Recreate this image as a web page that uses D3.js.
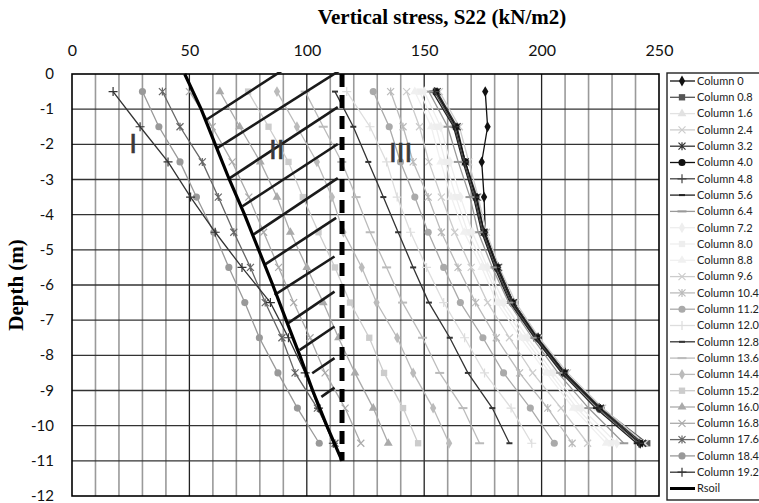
<!DOCTYPE html>
<html>
<head>
<meta charset="utf-8">
<script src="https://cdnjs.cloudflare.com/ajax/libs/d3/7.8.5/d3.min.js"></script>
<style>
  body { margin: 0; background: #fff; }
  svg { display: block; }
</style>
</head>
<body>
<div id="chart"></div>
<script>
  // depths (m) where each column profile was sampled
  const depths = [-0.5, -1.5, -2.5, -3.5, -4.5, -5.5, -6.5, -7.5, -8.5, -9.5, -10.5];

  // vertical stress S22 (kN/m2) for each column line
  const column0   = [176, 177, 174.5, 175.5, 176, 181.5, 188, 198.5, 210, 224.5, 242];
  const column08  = [155, 163.5, 167.5, 172, 175.5, 181, 188, 198.5, 210, 225.5, 245];
  const column16  = [154, 163, 167, 171.5, 175, 180.5, 187.5, 197.5, 209, 224, 243];
  const column24  = [156.5, 165, 169, 173, 176.5, 182, 189, 199, 211, 226, 244];
  const column32  = [155.5, 164, 167.5, 172.5, 175.5, 181.5, 188, 198, 210, 225, 243];
  const column40  = [155, 163.5, 167.5, 172, 175.5, 181, 187.5, 198, 209.5, 224.5, 242];
  const column48  = [154.5, 163, 167, 171.5, 175, 180.5, 187, 197.5, 209, 224, 241.5];
  const column56  = [153.5, 162.5, 166.5, 171, 174.5, 180, 186.5, 197, 208.5, 223, 240.5];
  const column64  = [152, 160, 164.5, 169.5, 173, 179, 186, 196, 207, 220, 235];
  const column72  = [150, 157, 161, 165.5, 170.5, 177, 184, 194, 205, 217, 232];
  const column80  = [148, 155, 159, 163.5, 168.5, 176, 182.5, 192.5, 203.5, 215, 229.5];
  const column88  = [146, 153, 157, 161.5, 167, 174.5, 181, 191, 202, 213.5, 227.5];
  const column96  = [142.5, 148, 152, 157.3, 163, 170, 177, 186.3, 196.2, 208.3, 219.6];
  const column104 = [135.7, 141, 145.3, 151.7, 157.3, 164.4, 171.9, 180.7, 190.6, 202.6, 213];
  const column112 = [128.3, 135.1, 139.9, 146, 151.7, 158.3, 165.4, 175, 183.8, 195.2, 205.4];
  const column120 = [117, 126.9, 134, 138.5, 144.2, 151, 158.3, 167.2, 175.7, 187, 195.8];
  const column128 = [112, 119.8, 126.2, 132.6, 138.9, 145.3, 152, 160.9, 168.6, 179, 186.3];
  const column136 = [99.3, 107, 114.9, 121, 127, 134, 140.8, 149.3, 156.6, 166.5, 173.6];
  const column144 = [87.3, 95.8, 104.3, 110.7, 115.6, 123.4, 129.7, 138.5, 145.3, 153.8, 160.6];
  const column152 = [75, 83.7, 92.2, 98.3, 105, 112, 118.4, 126.6, 132.9, 141, 147.4];
  const column160 = [63, 71.4, 80.2, 87.3, 93, 100, 107, 113.5, 120.5, 128.3, 134.7];
  const column168 = [50, 59.7, 68.2, 75.3, 81.6, 88, 94.4, 101.4, 107.8, 116.3, 123];
  const column176 = [38.5, 46, 55.5, 62.3, 68.9, 76, 82.3, 89.4, 95, 104.5, 112];
  const column184 = [30, 37, 46, 53, 60.4, 66.8, 73.6, 79.8, 87.7, 96, 105.3];
  const column192 = [17.5, 29, 40.9, 50.5, 61, 72.4, 84.5, 92.2, 99.3, 105, 111.3];

  const columnNames = ['Column 0', 'Column 0.8', 'Column 1.6', 'Column 2.4', 'Column 3.2',
    'Column 4.0', 'Column 4.8', 'Column 5.6', 'Column 6.4', 'Column 7.2', 'Column 8.0',
    'Column 8.8', 'Column 9.6', 'Column 10.4', 'Column 11.2', 'Column 12.0', 'Column 12.8',
    'Column 13.6', 'Column 14.4', 'Column 15.2', 'Column 16.0', 'Column 16.8', 'Column 17.6',
    'Column 18.4', 'Column 19.2'];
  const columnValues = [column0, column08, column16, column24, column32, column40, column48,
    column56, column64, column72, column80, column88, column96, column104, column112,
    column120, column128, column136, column144, column152, column160, column168, column176,
    column184, column192];

  // Rsoil line
  const rsoilDepth  = [0, -1, -2, -3, -4, -5, -6, -7, -8, -9, -10, -11];
  const rsoilStress = [48, 55, 61, 67, 73.5, 79.5, 85.5, 91.2, 97, 102.5, 108.5, 115];

  // vertical limit (dashed)
  const limitStress = 115;
  const limitDepth = [0, -11];

  // hatch lines between Rsoil and the limit
  const hatchStartX = [57.2, 61.5, 67.2, 72.6, 77.1, 82.1, 86.3, 91.9, 96.9, 102.3, 106.2];
  const hatchStartD = [-1.3, -2.12, -2.96, -3.76, -4.57, -5.42, -6.28, -7.09, -7.85, -8.51, -9.18];
  const hatchEndX   = [90, 114, 113.2, 113.2, 113.2, 112.5, 111.8, 111.8, 111.8, 111.8, 111.8];
  const hatchEndD   = [0.12, 0.1, -0.94, -1.99, -2.96, -4.09, -5.19, -6.19, -7.18, -8.08, -8.92];

  // zone labels
  const zoneLabels = ['I', 'II', 'III'];
  const zoneX = [26, 87.2, 140];
  const zoneD = [-2.24, -2.42, -2.49];

  const xTicks = [0, 50, 100, 150, 200, 250];
  const yTicks = [0, -1, -2, -3, -4, -5, -6, -7, -8, -9, -10, -11, -12];

  // look of each column line: [colour, marker]
  const styles = [
    ['#111', 'diamond'], ['#555', 'square'], ['#e2e2e2', 'triangle'], ['#cccccc', 'x'],
    ['#333', 'asterisk'], ['#111', 'circle'], ['#444', 'plus'], ['#222', 'dash'],
    ['#999', 'longdash'], ['#eeeeee', 'diamond'], ['#eeeeee', 'square'], ['#f0f0f0', 'triangle'],
    ['#cccccc', 'x'], ['#bbbbbb', 'asterisk'], ['#aaaaaa', 'circle'], ['#dddddd', 'plus'],
    ['#333', 'dash'], ['#bbbbbb', 'longdash'], ['#bbbbbb', 'diamond'], ['#cccccc', 'square'],
    ['#aaaaaa', 'triangle'], ['#aaaaaa', 'x'], ['#666', 'asterisk'], ['#999', 'circle'],
    ['#333', 'plus']
  ];

  const width = 759;
  const height = 503;
  const plotL = 72, plotR = 659, plotT = 74, plotB = 496;

  const xScale = d3.scaleLinear().domain([0, 250]).range([plotL, plotR]);
  const yScale = d3.scaleLinear().domain([0, -12]).range([plotT, plotB]);

  const svg = d3.select('#chart')
    .append('svg')
    .attr('width', width)
    .attr('height', height)
    .style('font-family', 'Lato, "Liberation Sans", sans-serif');

  svg.append('defs')
    .append('clipPath')
    .attr('id', 'plot-clip')
    .append('rect')
    .attr('x', plotL)
    .attr('y', plotT - 2)
    .attr('width', plotR - plotL)
    .attr('height', plotB - plotT + 2);

  // grid
  const grid = svg.append('g');
  grid.selectAll('line.vminor')
    .data(d3.range(10, 250, 10).filter(v => v % 50 !== 0))
    .join('line')
    .attr('class', 'vminor')
    .attr('x1', d => xScale(d)).attr('x2', d => xScale(d))
    .attr('y1', plotT).attr('y2', plotB)
    .attr('stroke', '#9a9a9a')
    .attr('stroke-width', 1.6);
  grid.selectAll('line.vmajor')
    .data([50, 100, 150, 200])
    .join('line')
    .attr('class', 'vmajor')
    .attr('x1', d => xScale(d)).attr('x2', d => xScale(d))
    .attr('y1', plotT).attr('y2', plotB)
    .attr('stroke', '#222')
    .attr('stroke-width', 1.3);
  grid.selectAll('line.h')
    .data(yTicks.slice(1, -1))
    .join('line')
    .attr('class', 'h')
    .attr('x1', plotL).attr('x2', plotR)
    .attr('y1', d => yScale(d)).attr('y2', d => yScale(d))
    .attr('stroke', '#333')
    .attr('stroke-width', 1.4);

  svg.append('rect')
    .attr('x', plotL).attr('y', plotT)
    .attr('width', plotR - plotL).attr('height', plotB - plotT)
    .attr('fill', 'none')
    .attr('stroke', '#000')
    .attr('stroke-width', 1.6);

  // axes
  svg.append('g')
    .attr('transform', `translate(0,${plotT})`)
    .call(d3.axisTop(xScale).tickValues(xTicks).tickSize(0).tickPadding(18).tickFormat(d => String(d)))
    .call(g => g.select('.domain').remove())
    .selectAll('text')
    .attr('font-size', 16)
    .attr('font-family', 'Lato, sans-serif')
    .attr('fill', '#111');

  svg.append('g')
    .attr('transform', `translate(${plotL},0)`)
    .call(d3.axisLeft(yScale).tickValues(yTicks).tickSize(0).tickPadding(18).tickFormat(d => String(d)))
    .call(g => g.select('.domain').remove())
    .selectAll('text')
    .attr('dy', '0.3em')
    .attr('font-size', 15)
    .attr('font-family', 'Lato, sans-serif')
    .attr('fill', '#111');

  svg.append('text')
    .attr('x', 442)
    .attr('y', 24)
    .attr('text-anchor', 'middle')
    .attr('font-family', '"Liberation Serif", serif')
    .attr('font-weight', 'bold')
    .attr('font-size', 21)
    .text('Vertical stress, S22 (kN/m2)');

  svg.append('text')
    .attr('transform', `translate(23,${(plotT + plotB) / 2}) rotate(-90)`)
    .attr('text-anchor', 'middle')
    .attr('font-family', '"Liberation Serif", serif')
    .attr('font-weight', 'bold')
    .attr('font-size', 21)
    .text('Depth (m)');

  // markers
  const marker = (g, type, color) => {
    const sym = { diamond: d3.symbolDiamond, square: d3.symbolSquare,
      triangle: d3.symbolTriangle, circle: d3.symbolCircle };
    if (sym[type]) {
      const size = type === 'diamond' ? 34 : type === 'triangle' ? 34 : 40;
      g.append('path').attr('d', d3.symbol(sym[type], size)()).attr('fill', color);
      return;
    }
    const paths = {
      x: 'M-3.5,-3.5L3.5,3.5M-3.5,3.5L3.5,-3.5',
      asterisk: 'M-3.5,-3.5L3.5,3.5M-3.5,3.5L3.5,-3.5M0,-4V4',
      plus: 'M-4.5,0H4.5M0,-4.5V4.5',
      dash: 'M-3,0H3',
      longdash: 'M-4.5,0H4.5'
    };
    g.append('path')
      .attr('d', paths[type])
      .attr('fill', 'none')
      .attr('stroke', color)
      .attr('stroke-width', type === 'dash' || type === 'longdash' ? 2 : 1.2);
  };

  const series = columnNames.map((name, i) => ({
    name,
    color: styles[i][0],
    type: styles[i][1],
    points: depths.map((d, j) => ({ depth: d, stress: columnValues[i][j] }))
  }));

  const line = d3.line()
    .x(d => xScale(d.stress))
    .y(d => yScale(d.depth));

  const plot = svg.append('g').attr('clip-path', 'url(#plot-clip)');

  series.forEach(s => {
    const g = plot.append('g');
    g.append('path')
      .datum(s.points)
      .attr('d', line)
      .attr('fill', 'none')
      .attr('stroke', s.color)
      .attr('stroke-width', 1.3);
    g.selectAll('g.mk')
      .data(s.points)
      .join('g')
      .attr('class', 'mk')
      .attr('transform', d => `translate(${xScale(d.stress)},${yScale(d.depth)})`)
      .each(function () { marker(d3.select(this), s.type, s.color); });
  });

  // hatch lines
  plot.selectAll('line.hatch')
    .data(hatchStartX.map((x, i) => [x, hatchStartD[i], hatchEndX[i], hatchEndD[i]]))
    .join('line')
    .attr('class', 'hatch')
    .attr('x1', d => xScale(d[0])).attr('y1', d => yScale(d[1]))
    .attr('x2', d => xScale(d[2])).attr('y2', d => yScale(d[3]))
    .attr('stroke', '#1a1a1a')
    .attr('stroke-width', 2.6);

  // Rsoil
  plot.append('path')
    .datum(rsoilDepth.map((d, i) => ({ depth: d, stress: rsoilStress[i] })))
    .attr('d', line)
    .attr('fill', 'none')
    .attr('stroke', '#000')
    .attr('stroke-width', 3.2);

  // dashed limit
  plot.append('line')
    .attr('x1', xScale(limitStress)).attr('x2', xScale(limitStress))
    .attr('y1', yScale(limitDepth[0])).attr('y2', yScale(limitDepth[1]))
    .attr('stroke', '#000')
    .attr('stroke-width', 5)
    .attr('stroke-dasharray', '13,8');

  // zone labels
  svg.selectAll('text.zone')
    .data(zoneLabels)
    .join('text')
    .attr('class', 'zone')
    .attr('x', (d, i) => xScale(zoneX[i]))
    .attr('y', (d, i) => yScale(zoneD[i]))
    .attr('text-anchor', 'middle')
    .attr('font-family', '"Liberation Sans", Arial, sans-serif')
    .attr('font-size', 28)
    .attr('fill', '#3a3a3a')
    .attr('stroke', '#3a3a3a')
    .attr('stroke-width', 0.6)
    .text(d => d);

  // legend
  const legend = svg.append('g');
  legend.append('rect')
    .attr('x', 667).attr('y', 73)
    .attr('width', 130).attr('height', 427)
    .attr('fill', '#fff')
    .attr('stroke', '#222')
    .attr('stroke-width', 1.4);

  const entryY = i => 81 + i * 16.3;
  series.forEach((s, i) => {
    const g = legend.append('g').attr('transform', `translate(0,${entryY(i)})`);
    g.append('line')
      .attr('x1', 670).attr('x2', 695)
      .attr('stroke', s.color)
      .attr('stroke-width', 1.3);
    const m = g.append('g').attr('transform', 'translate(682,0)');
    marker(m, s.type, s.color);
    g.append('text')
      .attr('x', 697)
      .attr('dy', '0.35em')
      .attr('font-size', 11)
      .attr('fill', '#222')
      .text(s.name);
  });
  const rg = legend.append('g').attr('transform', `translate(0,${entryY(25)})`);
  rg.append('line')
    .attr('x1', 670).attr('x2', 695)
    .attr('stroke', '#000')
    .attr('stroke-width', 3);
  rg.append('text')
    .attr('x', 697)
    .attr('dy', '0.35em')
    .attr('font-size', 11)
    .attr('fill', '#222')
    .text('Rsoil');
</script>
</body>
</html>
